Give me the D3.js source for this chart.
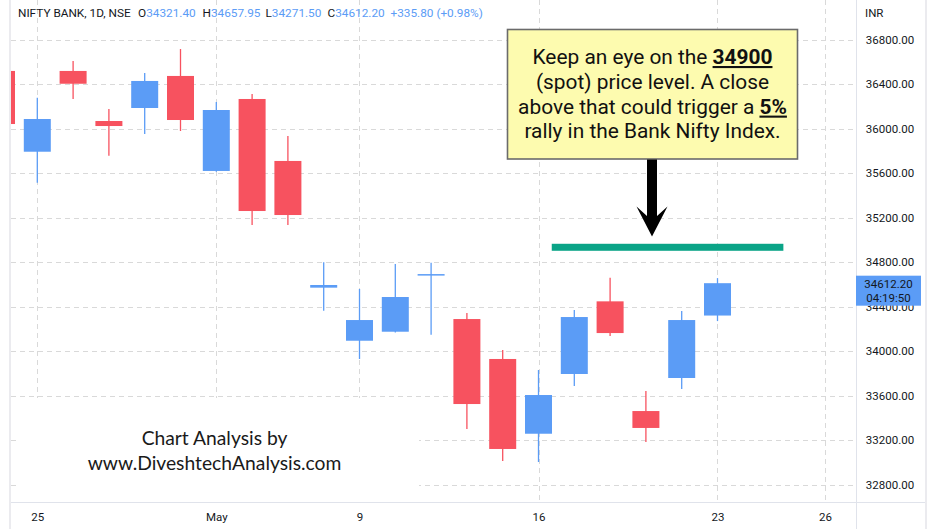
<!DOCTYPE html>
<html>
<head>
<meta charset="utf-8">
<script src="https://cdn.jsdelivr.net/npm/d3@7"></script>
<style>
  html, body { margin: 0; padding: 0; background: #ffffff; }
  svg { display: block; }
</style>
</head>
<body>
<svg id="chart" width="935" height="529"></svg>
<script>
// ---------------- DATA ----------------
const dates = ["Apr 22","Apr 25","Apr 26","Apr 27","Apr 28","Apr 29","May 2","May 4","May 5","May 6",
               "May 9","May 10","May 11","May 12","May 13","May 16","May 17","May 18","May 19","May 20","May 23"];
const openV  = [36520, 35794, 36520, 36070, 36187, 36475, 35621, 36268, 35711, 34572,
                34095, 34176, 34690, 34290, 33931, 33259, 33796, 34449, 33463, 33760, 34321.40];
const highV  = [36620, 36280, 36609, 36178, 36502, 36717, 36241, 36313, 35935, 34800,
                34560, 34785, 34796, 34344, 34012, 33832, 34371, 34662, 33643, 34362, 34657.95];
const lowV   = [35960, 35515, 36268, 35758, 35953, 35980, 35615, 35135, 35135, 34365,
                33931, 34170, 34149, 33302, 33014, 33005, 33688, 34137, 33185, 33661, 34271.50];
const closeV = [36043, 36088, 36405, 36025, 36430, 36079, 36169, 35261, 35225, 34596,
                34281, 34488, 34694, 33526, 33122, 33607, 34308, 34164, 33311, 34281, 34612.20];

const priceTicks = [32800, 33200, 33600, 34000, 34400, 34800, 35200, 35600, 36000, 36400, 36800];
const dateTickIndex  = [1, 6, 10, 15, 20, 23];
const dateTickLabels = ["25", "May", "9", "16", "23", "26"];

const levelPrice = 34935;          // green "watch" level
const levelFrom = 15.37, levelTo = 21.84;   // in trading-day index units

const headerTitle = "NIFTY BANK, 1D, NSE";
const headerItems = [["O","34321.40"],["H","34657.95"],["L","34271.50"],["C","34612.20"]];
const headerChange = "+335.80 (+0.98%)";
const lastPrice = 34612.20, lastTime = "04:19:50";

const noteLines = [
  [["Keep an eye on the ", false], ["34900", true]],
  [["(spot) price level. A close", false]],
  [["above that could trigger a ", false], ["5%", true]],
  [["rally in the Bank Nifty Index.", false]]
];
const creditLines = ["Chart Analysis by", "www.DiveshtechAnalysis.com"];

// ---------------- STYLE / LAYOUT ----------------
const W = 935, H = 529;
const plotL = 11, plotR = 856, plotB = 502;
const UP = "#5b9cf6", DOWN = "#f7525f";
const GRID = "#d9d9d9", BORDER = "#e0e3eb", TXT = "#131722";
const FONT = "Roboto, 'Noto Sans', sans-serif";

const svg = d3.select("#chart");

const x = d3.scaleLinear().domain([0, 23]).range([1.5, 824.9]);
const y = d3.scaleLinear().domain([32800, 36800]).range([484.8, 39.8]);
const step = x(1) - x(0);
const bodyW = 27;

// clip
svg.append("defs").append("clipPath").attr("id", "plotclip")
  .append("rect").attr("x", plotL).attr("y", 0).attr("width", plotR - plotL).attr("height", plotB);

const plot = svg.append("g").attr("clip-path", "url(#plotclip)");

// grid
plot.append("g").selectAll("line").data(priceTicks).join("line")
  .attr("x1", plotL).attr("x2", plotR)
  .attr("y1", d => Math.round(y(d)) + 0.5).attr("y2", d => Math.round(y(d)) + 0.5)
  .attr("stroke", GRID).attr("stroke-width", 1).attr("stroke-dasharray", "5,4");
plot.append("g").selectAll("line").data(dateTickIndex).join("line")
  .attr("x1", d => Math.round(x(d)) + 0.5).attr("x2", d => Math.round(x(d)) + 0.5)
  .attr("y1", 0).attr("y2", plotB)
  .attr("stroke", GRID).attr("stroke-width", 1).attr("stroke-dasharray", "5,4");

// candles
const idx = d3.range(dates.length);
const col = i => closeV[i] >= openV[i] ? UP : DOWN;
plot.append("g").selectAll("line").data(idx).join("line")
  .attr("x1", i => x(i)).attr("x2", i => x(i))
  .attr("y1", i => y(highV[i])).attr("y2", i => y(lowV[i]))
  .attr("stroke", col).attr("stroke-width", 1.3);
plot.append("g").selectAll("rect").data(idx).join("rect")
  .attr("x", i => x(i) - bodyW / 2).attr("width", bodyW)
  .attr("y", i => y(Math.max(openV[i], closeV[i])))
  .attr("height", i => Math.max(1.5, Math.abs(y(openV[i]) - y(closeV[i]))))
  .attr("fill", col);

// white panel behind credit text
svg.append("rect").attr("x", 17).attr("y", 398).attr("width", 402).attr("height", plotB - 398).attr("fill", "#fff");

// borders
svg.append("rect").attr("x", 9).attr("y", 0).attr("width", 2).attr("height", H).attr("fill", "#ebebef");
svg.append("rect").attr("x", 925).attr("y", 0).attr("width", 2).attr("height", H).attr("fill", "#ebebef");
svg.append("line").attr("x1", plotL).attr("x2", 925).attr("y1", plotB + 0.5).attr("y2", plotB + 0.5).attr("stroke", BORDER);
svg.append("line").attr("x1", plotR + 0.5).attr("x2", plotR + 0.5).attr("y1", 0).attr("y2", H).attr("stroke", BORDER);

// y axis
const yAxis = d3.axisRight(y).tickValues(priceTicks).tickFormat(d3.format(".2f")).tickSize(0).tickPadding(0);
const gy = svg.append("g").attr("transform", `translate(890,0)`).call(yAxis);
gy.select(".domain").remove();
gy.selectAll("text").attr("text-anchor", "middle").attr("font-family", FONT).attr("font-size", 11.5).attr("fill", TXT);

svg.append("text").attr("x", 865).attr("y", 17).text("INR")
  .attr("font-family", FONT).attr("font-size", 11.5).attr("fill", TXT);

// x axis
const xAxis = d3.axisBottom(x).tickValues(dateTickIndex).tickFormat((d, i) => dateTickLabels[i]).tickSize(0).tickPadding(0);
const gx = svg.append("g").attr("transform", `translate(0,${plotB})`).call(xAxis);
gx.select(".domain").remove();
gx.selectAll("text").attr("dy", null).attr("y", 19).attr("font-family", FONT).attr("font-size", 11.5).attr("fill", TXT);

// last price label
const ly = y(lastPrice);
svg.append("rect").attr("x", 856).attr("y", ly - 7.5).attr("width", 65).attr("height", 30).attr("fill", UP);
svg.append("text").attr("x", 888.5).attr("y", ly + 5).attr("text-anchor", "middle").text(d3.format(".2f")(lastPrice))
  .attr("font-family", FONT).attr("font-size", 11.5).attr("fill", TXT);
svg.append("text").attr("x", 888.5).attr("y", ly + 18.5).attr("text-anchor", "middle").text(lastTime)
  .attr("font-family", FONT).attr("font-size", 11.5).attr("fill", TXT);

// header
const hdr = svg.append("g").attr("font-family", FONT).attr("font-size", 11.8);
hdr.append("text").attr("x", 18).attr("y", 17).attr("fill", TXT).text(headerTitle);
const hx = [138, 202.5, 265.5, 327.5];
headerItems.forEach((it, k) => {
  const t = hdr.append("text").attr("x", hx[k]).attr("y", 17);
  t.append("tspan").attr("fill", TXT).text(it[0]);
  t.append("tspan").attr("fill", UP).text(it[1]);
});
hdr.append("text").attr("x", 390.5).attr("y", 17).attr("fill", UP).text(headerChange);

// green level
svg.append("rect").attr("x", x(levelFrom)).attr("width", x(levelTo) - x(levelFrom))
  .attr("y", y(levelPrice) - 3.5).attr("height", 7).attr("fill", "#0aa487");

// note box
svg.append("rect").attr("x", 507.5).attr("y", 29.5).attr("width", 290).attr("height", 129.5)
  .attr("fill", "#fdfbaf").attr("stroke", "#6b6b6b").attr("stroke-width", 1.6);
const noteG = svg.append("g").attr("font-family", "Roboto, sans-serif").attr("fill", "#111");
// fit font size so the last line is ~256px wide
const probe = noteG.append("text").attr("font-size", 20).text(noteLines[3][0][0]);
const noteFS = 20 * 256.5 / probe.node().getComputedTextLength();
probe.remove();
noteLines.forEach((ln, k) => {
  const t = noteG.append("text").attr("x", 652.5).attr("y", 64 + k * 24.8)
    .attr("text-anchor", "middle").attr("font-size", noteFS);
  ln.forEach(([s, b]) => {
    const ts = t.append("tspan").text(s);
    if (b) ts.attr("font-weight", "bold").attr("text-decoration", "underline");
  });
});

// arrow
svg.append("rect").attr("x", 647).attr("y", 159.5).attr("width", 10).attr("height", 58).attr("fill", "#000");
svg.append("path").attr("d", "M636.5,206.5 L647,216 L657,216 L667.5,206.5 L652,236.5 Z").attr("fill", "#000");

// credit text
const cg = svg.append("g").attr("font-family", "Lato, 'Open Sans', sans-serif").attr("fill", "#1a1a1a");
const p2 = cg.append("text").attr("font-size", 20).text(creditLines[1]);
const cFS = 20 * 254 / p2.node().getComputedTextLength();
p2.remove();
creditLines.forEach((s, k) => {
  cg.append("text").attr("x", 214.5).attr("y", 444.5 + k * 25).attr("text-anchor", "middle")
    .attr("font-size", cFS).text(s);
});
</script>
</body>
</html>
